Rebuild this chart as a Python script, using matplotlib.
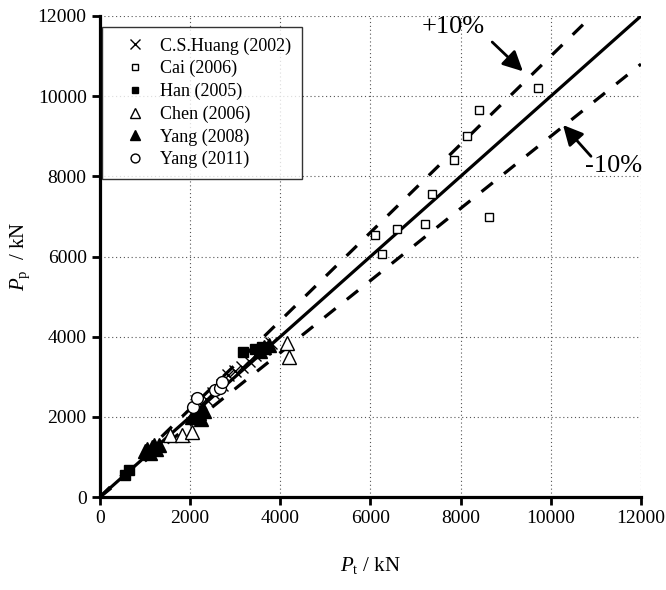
import matplotlib
matplotlib.use("Agg")
import matplotlib.pyplot as plt
import numpy as np

plt.rcParams["font.family"] = ["Liberation Serif", "DejaVu Serif"]
plt.rcParams["mathtext.fontset"] = "custom"
plt.rcParams["mathtext.rm"] = "Liberation Serif"
plt.rcParams["mathtext.it"] = "Liberation Serif:italic"

# 试验值 Pt / 预测值 Pp (kN)
huang_x = [2150, 2350, 2500, 2700, 2850, 3000, 3150, 3300, 3450, 3650, 3800]
huang_y = [2400, 2450, 2600, 2800, 3050, 3150, 3250, 3400, 3550, 3700, 3850]

cai_x = [6100, 6250, 6590, 7210, 7360, 7850, 8140, 8400, 8630, 9710]
cai_y = [6525, 6050, 6680, 6800, 7550, 8400, 9000, 9650, 6980, 10200]

han_x = [550, 650, 2200, 2250, 3170, 3450, 3600]
han_y = [560, 680, 2000, 2100, 3625, 3700, 3750]

chen_x = [1550, 1820, 2040, 4150, 4190]
chen_y = [1550, 1550, 1625, 3850, 3500]

yang08_x = [1000, 1050, 1100, 1150, 1200, 1250, 1300, 2050, 2200, 2250, 2300, 3550, 3650, 3750]
yang08_y = [1150, 1200, 1100, 1250, 1300, 1200, 1300, 2000, 2100, 1950, 2150, 3650, 3750, 3800]

yang11_x = [2060, 2150, 2550, 2660, 2700]
yang11_y = [2250, 2475, 2675, 2725, 2875]

xticks = [0, 2000, 4000, 6000, 8000, 10000, 12000]
yticks = [0, 2000, 4000, 6000, 8000, 10000, 12000]

fig = plt.figure(figsize=(6.66, 5.90), dpi=100)
ax = fig.add_axes([0.150, 0.1576, 0.8125, 0.8153])

# 网格
for t in xticks[1:]:
    ax.axvline(t, color="#555555", linestyle=(0, (1, 2.5)), linewidth=0.8, zorder=0)
for t in yticks[1:]:
    ax.axhline(t, color="#555555", linestyle=(0, (1, 2.5)), linewidth=0.8, zorder=0)

# y = x 与 ±10% 线
line = np.array([0, 12000])
ax.plot(line, line, color="k", linewidth=2.3, zorder=3)
ax.plot([0, 12000 / 1.1], [0, 12000], color="k", linewidth=2.3,
        linestyle=(0, (4.5, 4.5)), zorder=3)
ax.plot([0, 12000], [0, 12000 * 0.9], color="k", linewidth=2.3,
        linestyle=(0, (4.5, 4.5)), zorder=3)

ax.plot(huang_x, huang_y, "x", color="k", ms=9, mew=1.0, label="C.S.Huang (2002)", zorder=4)
ax.plot(cai_x, cai_y, "s", mfc="white", mec="k", ms=6, mew=1.0, label="Cai (2006)", zorder=4)
ax.plot(han_x, han_y, "s", color="k", ms=6.5, label="Han (2005)", zorder=4)
ax.plot(chen_x, chen_y, "^", mfc="white", mec="k", ms=10, mew=1.0, label="Chen (2006)", zorder=4)
ax.plot(yang08_x, yang08_y, "^", color="k", ms=10, label="Yang (2008)", zorder=4)
ax.plot(yang11_x, yang11_y, "o", mfc="white", mec="k", ms=8.5, mew=1.0, label="Yang (2011)", zorder=4)

# 标注
arrow = dict(arrowstyle="-|>", color="k", lw=2, mutation_scale=30, shrinkA=0, shrinkB=0)
ax.text(7830, 11730, "+10%", fontsize=19, ha="center", va="center")
ax.annotate("", xy=(9380, 10620), xytext=(8700, 11350), arrowprops=arrow)
ax.text(11400, 8250, "-10%", fontsize=19, ha="center", va="center")
ax.annotate("", xy=(10270, 9280), xytext=(10890, 8500), arrowprops=arrow)

ax.set_xlim(0, 12000)
ax.set_ylim(0, 12000)
ax.set_xticks(xticks)
ax.set_yticks(yticks)
ax.tick_params(direction="out", length=6, width=2, labelsize=14)
ax.spines["top"].set_visible(False)
ax.spines["right"].set_visible(False)
ax.spines["left"].set_linewidth(2.3)
ax.spines["bottom"].set_linewidth(2.3)

ax.set_xlabel(r"$P_{\rm t}$ / kN", fontsize=15, labelpad=20)
ax.set_ylabel(r"$P_{\rm p}$  / kN", fontsize=15, labelpad=4)

leg = ax.legend(loc="upper left", bbox_to_anchor=(0.004, 0.978), fontsize=13,
                markerscale=0.75, frameon=True, fancybox=False, edgecolor="k",
                handlelength=2.4, handletextpad=0.2, labelspacing=0.3,
                borderpad=0.6, borderaxespad=0)
leg.get_frame().set_linewidth(1.0)

fig.savefig("out.png", dpi=100)
